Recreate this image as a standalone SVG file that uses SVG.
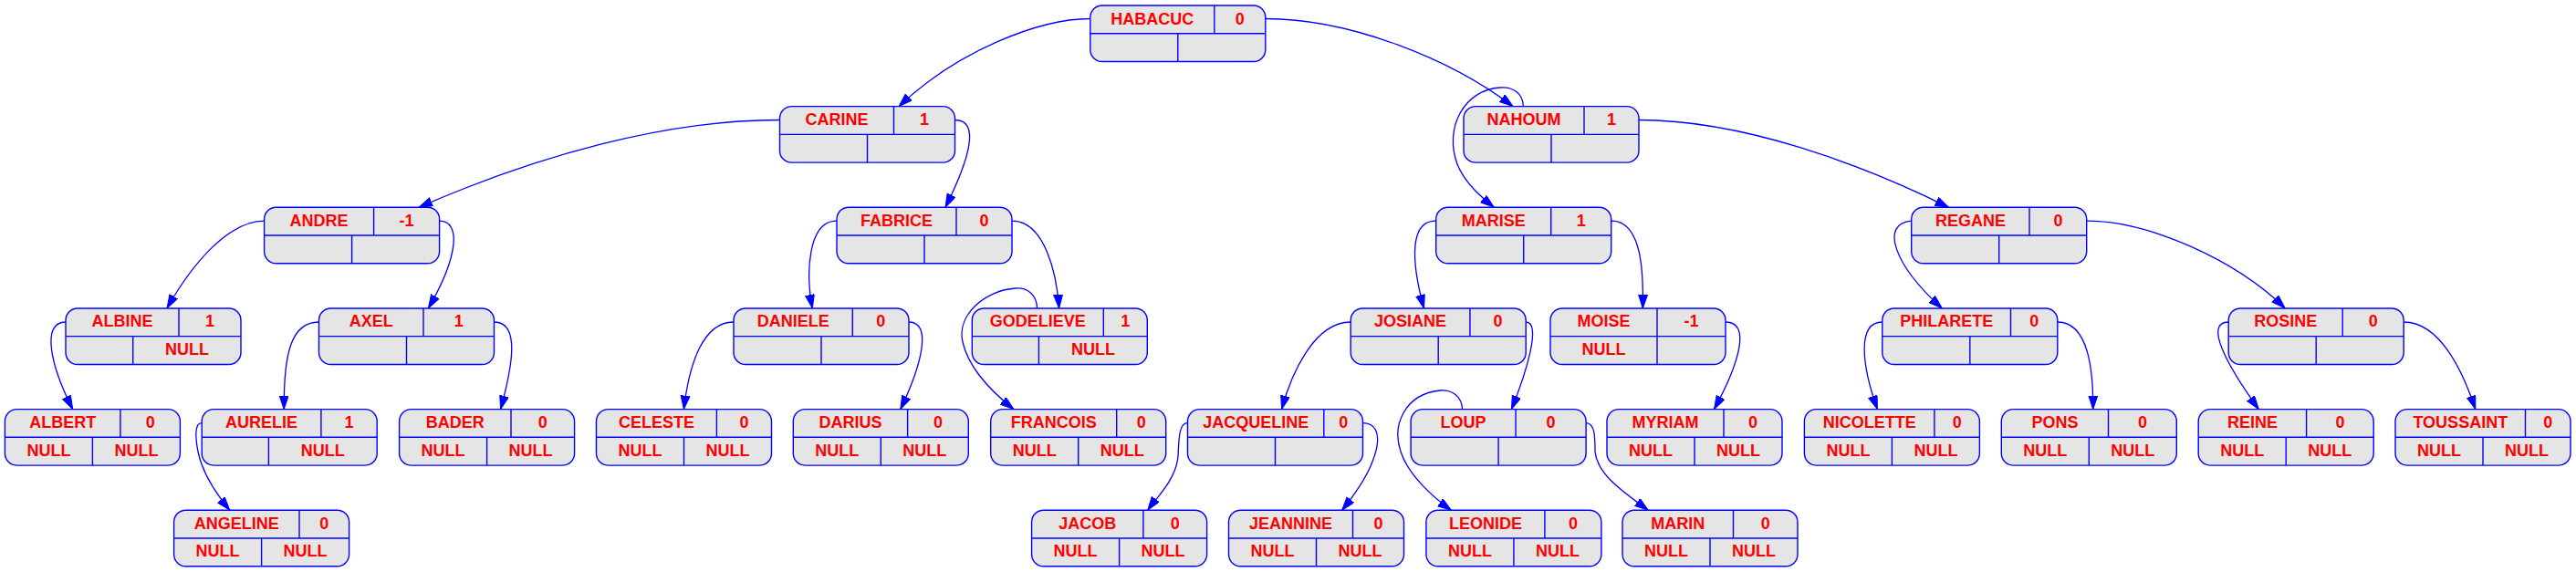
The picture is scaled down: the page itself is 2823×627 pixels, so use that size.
<svg xmlns="http://www.w3.org/2000/svg" width="2823" height="627" viewBox="0 0 2823 627">
<style>
.box{fill:#e5e5e5;stroke:#0000ff;stroke-width:1.4}
.ln{stroke:#0000ff;stroke-width:1.4;fill:none}
.t{font-family:"Liberation Sans",Arial,sans-serif;font-weight:bold;font-size:18px;fill:#ff0000;text-anchor:middle}
.e{fill:none;stroke:#0000ff;stroke-width:1.3;marker-end:url(#ah)}
</style>
<defs>
<marker id="ah" markerUnits="userSpaceOnUse" markerWidth="16" markerHeight="11" refX="15" refY="5" orient="auto" viewBox="0 0 16 11">
<path d="M0,0 L15,5 L0,10 Z" fill="#0000ff" stroke="#0000ff" stroke-width="1"/>
</marker>
</defs>
<rect width="2823" height="627" fill="#ffffff"/>
<g id="edges">
<path class="e" d="M1194.8,20.5 C1140,20.5 1050,55 985,116.65"/>
<path class="e" d="M1386.8,20.5 C1480,20.5 1590,65 1658,116.65"/>
<path class="e" d="M854.5,131.5 C730,131.5 590,170 459,227.3"/>
<path class="e" d="M1046.5,131.5 C1075,131.5 1062,175 1036,227.3"/>
<path class="e" d="M1669.3,116.65 C1669,102 1658,95 1644,96 C1605,98 1582,140 1597,180 C1605,200 1622,215 1637.3,227.3"/>
<path class="e" d="M1796,131.5 C1910,131.5 2040,180 2135.6,227.3"/>
<path class="e" d="M289.6,242.2 C250,242.2 210,290 183,337.95"/>
<path class="e" d="M481.6,242.2 C505,242.2 503,280 469.4,337.95"/>
<path class="e" d="M917,242.2 C885,242.2 883,300 890.3,337.95"/>
<path class="e" d="M1109,242.2 C1145,242.2 1158,300 1160.6,337.95"/>
<path class="e" d="M1573.7,242.2 C1540,242.2 1550,300 1560.5,337.95"/>
<path class="e" d="M1765.7,242.2 C1800,242.2 1801,300 1800.3,337.95"/>
<path class="e" d="M2094.7,242.2 C2060,245 2075,290 2128.3,337.95"/>
<path class="e" d="M2286.7,242.2 C2355,242.2 2450,285 2504.2,337.95"/>
<path class="e" d="M72,353 C45,353 55,400 79.7,448.6"/>
<path class="e" d="M349.5,353 C318,353 311,390 311.2,448.6"/>
<path class="e" d="M541.5,353 C570,353 562,400 548.6,448.6"/>
<path class="e" d="M804,353 C770,353 755,400 749.4,448.6"/>
<path class="e" d="M996,353 C1022,353 1010,400 986.8,448.6"/>
<path class="e" d="M1136.6,337.95 C1136,323 1126,315 1113,316 C1080,318 1048,345 1055,375 C1062,405 1090,432 1110.9,448.6"/>
<path class="e" d="M1480.2,353 C1440,353 1415,410 1404.6,448.6"/>
<path class="e" d="M1672.2,353 C1690,353 1672,410 1656.4,448.6"/>
<path class="e" d="M1891,353 C1920,353 1905,400 1878.5,448.6"/>
<path class="e" d="M2062.8,353 C2035,353 2040,400 2057.4,448.6"/>
<path class="e" d="M2254.8,353 C2290,353 2294,410 2293.7,448.6"/>
<path class="e" d="M2442.2,353 C2415,353 2440,400 2475.3,448.6"/>
<path class="e" d="M2634.2,353 C2675,353 2700,410 2712.8,448.6"/>
<path class="e" d="M221.2,463.6 C213,463.6 214,480 217,495 C222,520 240,545 251.8,559.25"/>
<path class="e" d="M1301.5,463.6 C1292,463.6 1292,480 1291,500 C1289,525 1268,545 1257.7,559.25"/>
<path class="e" d="M1493.5,463.6 C1520,463.6 1515,505 1470.6,559.25"/>
<path class="e" d="M1602.5,448.6 C1602,434 1591,427 1578,428 C1540,432 1525,465 1535,495 C1543,520 1570,545 1590.5,559.25"/>
<path class="e" d="M1738.1,463.6 C1748,463.6 1748,480 1748,495 C1750,520 1780,540 1806.3,559.25"/>
</g>
<g id="HABACUC" transform="translate(1194.8,6)"><rect class="box" width="192" height="61.5" rx="13"/><path class="ln" d="M0,30.7H192M136,0V30.7M96,30.7V61.5"/><text class="t" x="68" y="20.5">HABACUC</text><text class="t" x="164" y="20.5">0</text></g>
<g id="CARINE" transform="translate(854.5,116.65)"><rect class="box" width="192" height="61.5" rx="13"/><path class="ln" d="M0,30.7H192M125,0V30.7M96,30.7V61.5"/><text class="t" x="62.5" y="20.5">CARINE</text><text class="t" x="158.5" y="20.5">1</text></g>
<g id="NAHOUM" transform="translate(1604,116.65)"><rect class="box" width="192" height="61.5" rx="13"/><path class="ln" d="M0,30.7H192M132,0V30.7M96,30.7V61.5"/><text class="t" x="66" y="20.5">NAHOUM</text><text class="t" x="162" y="20.5">1</text></g>
<g id="ANDRE" transform="translate(289.6,227.3)"><rect class="box" width="192" height="61.5" rx="13"/><path class="ln" d="M0,30.7H192M120,0V30.7M96,30.7V61.5"/><text class="t" x="60" y="20.5">ANDRE</text><text class="t" x="156" y="20.5">-1</text></g>
<g id="FABRICE" transform="translate(917,227.3)"><rect class="box" width="192" height="61.5" rx="13"/><path class="ln" d="M0,30.7H192M131,0V30.7M96,30.7V61.5"/><text class="t" x="65.5" y="20.5">FABRICE</text><text class="t" x="161.5" y="20.5">0</text></g>
<g id="MARISE" transform="translate(1573.7,227.3)"><rect class="box" width="192" height="61.5" rx="13"/><path class="ln" d="M0,30.7H192M126,0V30.7M96,30.7V61.5"/><text class="t" x="63" y="20.5">MARISE</text><text class="t" x="159" y="20.5">1</text></g>
<g id="REGANE" transform="translate(2094.7,227.3)"><rect class="box" width="192" height="61.5" rx="13"/><path class="ln" d="M0,30.7H192M129.3,0V30.7M96,30.7V61.5"/><text class="t" x="64.7" y="20.5">REGANE</text><text class="t" x="160.7" y="20.5">0</text></g>
<g id="ALBINE" transform="translate(72,337.95)"><rect class="box" width="192" height="61.5" rx="13"/><path class="ln" d="M0,30.7H192M124,0V30.7M73.7,30.7V61.5"/><text class="t" x="62" y="20.5">ALBINE</text><text class="t" x="158" y="20.5">1</text><text class="t" x="132.9" y="51">NULL</text></g>
<g id="AXEL" transform="translate(349.5,337.95)"><rect class="box" width="192" height="61.5" rx="13"/><path class="ln" d="M0,30.7H192M114.5,0V30.7M96,30.7V61.5"/><text class="t" x="57.3" y="20.5">AXEL</text><text class="t" x="153.3" y="20.5">1</text></g>
<g id="DANIELE" transform="translate(804,337.95)"><rect class="box" width="192" height="61.5" rx="13"/><path class="ln" d="M0,30.7H192M130.3,0V30.7M96,30.7V61.5"/><text class="t" x="65.2" y="20.5">DANIELE</text><text class="t" x="161.2" y="20.5">0</text></g>
<g id="GODELIEVE" transform="translate(1065.3,337.95)"><rect class="box" width="192" height="61.5" rx="13"/><path class="ln" d="M0,30.7H192M144,0V30.7M73.1,30.7V61.5"/><text class="t" x="72" y="20.5">GODELIEVE</text><text class="t" x="168" y="20.5">1</text><text class="t" x="132.6" y="51">NULL</text></g>
<g id="JOSIANE" transform="translate(1480.2,337.95)"><rect class="box" width="192" height="61.5" rx="13"/><path class="ln" d="M0,30.7H192M130.7,0V30.7M96,30.7V61.5"/><text class="t" x="65.4" y="20.5">JOSIANE</text><text class="t" x="161.4" y="20.5">0</text></g>
<g id="MOISE" transform="translate(1699,337.95)"><rect class="box" width="192" height="61.5" rx="13"/><path class="ln" d="M0,30.7H192M117,0V30.7M117,30.7V61.5"/><text class="t" x="58.5" y="20.5">MOISE</text><text class="t" x="154.5" y="20.5">-1</text><text class="t" x="58.5" y="51">NULL</text></g>
<g id="PHILARETE" transform="translate(2062.8,337.95)"><rect class="box" width="192" height="61.5" rx="13"/><path class="ln" d="M0,30.7H192M140.7,0V30.7M96,30.7V61.5"/><text class="t" x="70.4" y="20.5">PHILARETE</text><text class="t" x="166.4" y="20.5">0</text></g>
<g id="ROSINE" transform="translate(2442.2,337.95)"><rect class="box" width="192" height="61.5" rx="13"/><path class="ln" d="M0,30.7H192M125,0V30.7M96,30.7V61.5"/><text class="t" x="62.5" y="20.5">ROSINE</text><text class="t" x="158.5" y="20.5">0</text></g>
<g id="ALBERT" transform="translate(5.4,448.6)"><rect class="box" width="192" height="61.5" rx="13"/><path class="ln" d="M0,30.7H192M126.5,0V30.7M96,30.7V61.5"/><text class="t" x="63.3" y="20.5">ALBERT</text><text class="t" x="159.3" y="20.5">0</text><text class="t" x="48" y="51">NULL</text><text class="t" x="144" y="51">NULL</text></g>
<g id="AURELIE" transform="translate(221.2,448.6)"><rect class="box" width="192" height="61.5" rx="13"/><path class="ln" d="M0,30.7H192M130.7,0V30.7M73.2,30.7V61.5"/><text class="t" x="65.4" y="20.5">AURELIE</text><text class="t" x="161.4" y="20.5">1</text><text class="t" x="132.6" y="51">NULL</text></g>
<g id="BADER" transform="translate(437.6,448.6)"><rect class="box" width="192" height="61.5" rx="13"/><path class="ln" d="M0,30.7H192M122.4,0V30.7M96,30.7V61.5"/><text class="t" x="61.2" y="20.5">BADER</text><text class="t" x="157.2" y="20.5">0</text><text class="t" x="48" y="51">NULL</text><text class="t" x="144" y="51">NULL</text></g>
<g id="CELESTE" transform="translate(653.5,448.6)"><rect class="box" width="192" height="61.5" rx="13"/><path class="ln" d="M0,30.7H192M131.9,0V30.7M96,30.7V61.5"/><text class="t" x="66" y="20.5">CELESTE</text><text class="t" x="162" y="20.5">0</text><text class="t" x="48" y="51">NULL</text><text class="t" x="144" y="51">NULL</text></g>
<g id="DARIUS" transform="translate(869.3,448.6)"><rect class="box" width="192" height="61.5" rx="13"/><path class="ln" d="M0,30.7H192M125.3,0V30.7M96,30.7V61.5"/><text class="t" x="62.7" y="20.5">DARIUS</text><text class="t" x="158.7" y="20.5">0</text><text class="t" x="48" y="51">NULL</text><text class="t" x="144" y="51">NULL</text></g>
<g id="FRANCOIS" transform="translate(1085.7,448.6)"><rect class="box" width="192" height="61.5" rx="13"/><path class="ln" d="M0,30.7H192M138,0V30.7M96,30.7V61.5"/><text class="t" x="69" y="20.5">FRANCOIS</text><text class="t" x="165" y="20.5">0</text><text class="t" x="48" y="51">NULL</text><text class="t" x="144" y="51">NULL</text></g>
<g id="JACQUELINE" transform="translate(1301.5,448.6)"><rect class="box" width="192" height="61.5" rx="13"/><path class="ln" d="M0,30.7H192M149.3,0V30.7M96,30.7V61.5"/><text class="t" x="74.7" y="20.5">JACQUELINE</text><text class="t" x="170.7" y="20.5">0</text></g>
<g id="LOUP" transform="translate(1546.1,448.6)"><rect class="box" width="192" height="61.5" rx="13"/><path class="ln" d="M0,30.7H192M115,0V30.7M96,30.7V61.5"/><text class="t" x="57.5" y="20.5">LOUP</text><text class="t" x="153.5" y="20.5">0</text></g>
<g id="MYRIAM" transform="translate(1761,448.6)"><rect class="box" width="192" height="61.5" rx="13"/><path class="ln" d="M0,30.7H192M128,0V30.7M96,30.7V61.5"/><text class="t" x="64" y="20.5">MYRIAM</text><text class="t" x="160" y="20.5">0</text><text class="t" x="48" y="51">NULL</text><text class="t" x="144" y="51">NULL</text></g>
<g id="NICOLETTE" transform="translate(1977.4,448.6)"><rect class="box" width="192" height="61.5" rx="13"/><path class="ln" d="M0,30.7H192M142.5,0V30.7M96,30.7V61.5"/><text class="t" x="71.3" y="20.5">NICOLETTE</text><text class="t" x="167.3" y="20.5">0</text><text class="t" x="48" y="51">NULL</text><text class="t" x="144" y="51">NULL</text></g>
<g id="PONS" transform="translate(2193.3,448.6)"><rect class="box" width="192" height="61.5" rx="13"/><path class="ln" d="M0,30.7H192M117.2,0V30.7M96,30.7V61.5"/><text class="t" x="58.6" y="20.5">PONS</text><text class="t" x="154.6" y="20.5">0</text><text class="t" x="48" y="51">NULL</text><text class="t" x="144" y="51">NULL</text></g>
<g id="REINE" transform="translate(2409.2,448.6)"><rect class="box" width="192" height="61.5" rx="13"/><path class="ln" d="M0,30.7H192M118.4,0V30.7M96,30.7V61.5"/><text class="t" x="59.2" y="20.5">REINE</text><text class="t" x="155.2" y="20.5">0</text><text class="t" x="48" y="51">NULL</text><text class="t" x="144" y="51">NULL</text></g>
<g id="TOUSSAINT" transform="translate(2625,448.6)"><rect class="box" width="192" height="61.5" rx="13"/><path class="ln" d="M0,30.7H192M142.5,0V30.7M96,30.7V61.5"/><text class="t" x="71.3" y="20.5">TOUSSAINT</text><text class="t" x="167.3" y="20.5">0</text><text class="t" x="48" y="51">NULL</text><text class="t" x="144" y="51">NULL</text></g>
<g id="ANGELINE" transform="translate(190.6,559.25)"><rect class="box" width="192" height="61.5" rx="13"/><path class="ln" d="M0,30.7H192M137.4,0V30.7M96,30.7V61.5"/><text class="t" x="68.7" y="20.5">ANGELINE</text><text class="t" x="164.7" y="20.5">0</text><text class="t" x="48" y="51">NULL</text><text class="t" x="144" y="51">NULL</text></g>
<g id="JACOB" transform="translate(1130.6,559.25)"><rect class="box" width="192" height="61.5" rx="13"/><path class="ln" d="M0,30.7H192M122.3,0V30.7M96,30.7V61.5"/><text class="t" x="61.2" y="20.5">JACOB</text><text class="t" x="157.2" y="20.5">0</text><text class="t" x="48" y="51">NULL</text><text class="t" x="144" y="51">NULL</text></g>
<g id="JEANNINE" transform="translate(1346.5,559.25)"><rect class="box" width="192" height="61.5" rx="13"/><path class="ln" d="M0,30.7H192M136,0V30.7M96,30.7V61.5"/><text class="t" x="68" y="20.5">JEANNINE</text><text class="t" x="164" y="20.5">0</text><text class="t" x="48" y="51">NULL</text><text class="t" x="144" y="51">NULL</text></g>
<g id="LEONIDE" transform="translate(1562.9,559.25)"><rect class="box" width="192" height="61.5" rx="13"/><path class="ln" d="M0,30.7H192M130,0V30.7M96,30.7V61.5"/><text class="t" x="65" y="20.5">LEONIDE</text><text class="t" x="161" y="20.5">0</text><text class="t" x="48" y="51">NULL</text><text class="t" x="144" y="51">NULL</text></g>
<g id="MARIN" transform="translate(1778,559.25)"><rect class="box" width="192" height="61.5" rx="13"/><path class="ln" d="M0,30.7H192M121.5,0V30.7M96,30.7V61.5"/><text class="t" x="60.8" y="20.5">MARIN</text><text class="t" x="156.8" y="20.5">0</text><text class="t" x="48" y="51">NULL</text><text class="t" x="144" y="51">NULL</text></g>
</svg>
